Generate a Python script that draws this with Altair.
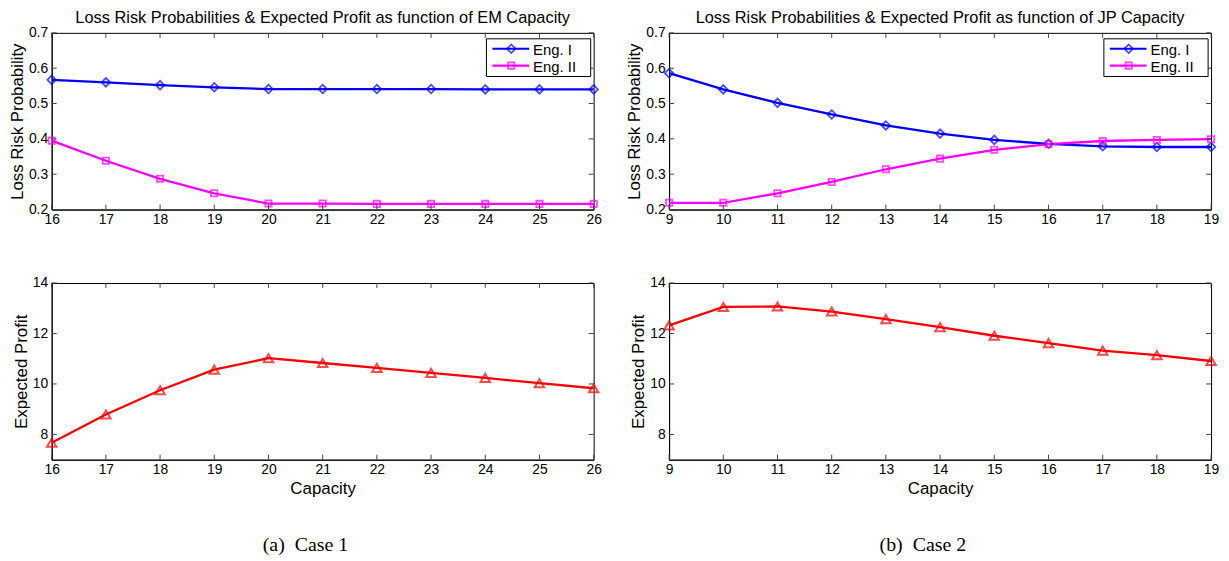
import altair as alt
import pandas as pd

# ---------------- data ----------------
series_names = ["Eng. I", "Eng. II"]

case1_capacity = [16, 17, 18, 19, 20, 21, 22, 23, 24, 25, 26]
case1_eng1 = [0.567, 0.560, 0.552, 0.546, 0.541, 0.541, 0.541, 0.541, 0.540, 0.540, 0.540]
case1_eng2 = [0.395, 0.338, 0.287, 0.246, 0.217, 0.217, 0.216, 0.216, 0.216, 0.216, 0.216]
case1_profit = [7.67, 8.79, 9.75, 10.57, 11.02, 10.83, 10.64, 10.44, 10.24, 10.03, 9.83]

case2_capacity = [9, 10, 11, 12, 13, 14, 15, 16, 17, 18, 19]
case2_eng1 = [0.586, 0.540, 0.502, 0.469, 0.438, 0.415, 0.397, 0.386, 0.379, 0.377, 0.377]
case2_eng2 = [0.219, 0.219, 0.246, 0.278, 0.314, 0.344, 0.369, 0.385, 0.394, 0.397, 0.399]
case2_profit = [12.32, 13.05, 13.07, 12.87, 12.57, 12.25, 11.91, 11.62, 11.32, 11.14, 10.91]

prob_ticks = [0.2, 0.3, 0.4, 0.5, 0.6, 0.7]
profit_ticks = [8, 10, 12, 14]

titles = [
    "Loss Risk Probabilities & Expected Profit as function of EM Capacity",
    "Loss Risk Probabilities & Expected Profit as function of JP Capacity",
]
captions = ["(a)\u00a0\u00a0Case 1", "(b)\u00a0\u00a0Case 2"]

# ---------------- styling ----------------
W, H = 546, 178
FONT = "Liberation Sans"
BLUE, MAGENTA, RED = "#0000ff", "#ff00ff", "#ff0000"
TICK = 5


def inner_ticks(xs, xscale, xaxis, yvals, yscale, yaxis):
    xt = pd.DataFrame({"capacity": xs})
    yt = pd.DataFrame({"value": yvals})
    base_x = alt.Chart(xt).mark_rule(color="#444444", strokeWidth=1)
    base_y = alt.Chart(yt).mark_rule(color="#444444", strokeWidth=1)
    xenc = alt.X("capacity:Q", scale=xscale, axis=xaxis)
    yenc = alt.Y("value:Q", scale=yscale, axis=yaxis)
    return [
        base_x.encode(x=xenc, y=alt.value(H), y2=alt.value(H - TICK)),
        base_x.encode(x=xenc, y=alt.value(0), y2=alt.value(TICK)),
        base_y.encode(y=yenc, x=alt.value(0), x2=alt.value(TICK)),
        base_y.encode(y=yenc, x=alt.value(W), x2=alt.value(W - TICK)),
    ]


def legend_layers():
    box = alt.Chart(pd.DataFrame({"k": [0]})).mark_rect(
        fill="white", stroke="black", strokeWidth=1
    ).encode(x=alt.value(W - 108), x2=alt.value(W - 3), y=alt.value(6), y2=alt.value(44))
    layers = [box]
    rows = [(series_names[0], BLUE, "diamond", 16, 75), (series_names[1], MAGENTA, "square", 33, 40)]
    for name, col, shp, yy, sz in rows:
        d = pd.DataFrame({"label": [name]})
        layers.append(
            alt.Chart(d).mark_rule(color=col, strokeWidth=2.2).encode(
                x=alt.value(W - 102), x2=alt.value(W - 65), y=alt.value(yy)
            )
        )
        layers.append(
            alt.Chart(d).mark_point(shape=shp, color=col, filled=False, size=sz, strokeWidth=1.8).encode(
                x=alt.value(W - 83), y=alt.value(yy)
            )
        )
        layers.append(
            alt.Chart(d).mark_text(align="left", baseline="middle", font=FONT, fontSize=15, color="black").encode(
                x=alt.value(W - 61), y=alt.value(yy + 1), text="label:N"
            )
        )
    return layers


def prob_panel(xs, e1, e2, title):
    df = pd.DataFrame({
        "capacity": xs + xs,
        "series": [series_names[0]] * len(xs) + [series_names[1]] * len(xs),
        "value": e1 + e2,
    })
    xscale = alt.Scale(domain=[xs[0], xs[-1]], nice=False, zero=False)
    yscale = alt.Scale(domain=[prob_ticks[0], prob_ticks[-1]], nice=False, zero=False)
    xaxis = alt.Axis(values=xs, format="d", title=None)
    yaxis = alt.Axis(values=prob_ticks, format=".1f", title="Loss Risk Probability")
    x = alt.X("capacity:Q", scale=xscale, axis=xaxis)
    y = alt.Y("value:Q", scale=yscale, axis=yaxis)
    color = alt.Color("series:N", scale=alt.Scale(domain=series_names, range=[BLUE, MAGENTA]), legend=None)
    shape = alt.Shape("series:N", scale=alt.Scale(domain=series_names, range=["diamond", "square"]), legend=None)
    size = alt.Size("series:N", scale=alt.Scale(domain=series_names, range=[75, 40]), legend=None)
    base = alt.Chart(df)
    line = base.mark_line(strokeWidth=2.3).encode(x=x, y=y, color=color, detail="series:N")
    pts = base.mark_point(filled=False, strokeWidth=1.8).encode(x=x, y=y, color=color, shape=shape, size=size)
    layers = [line, pts] + inner_ticks(xs, xscale, xaxis, prob_ticks, yscale, yaxis) + legend_layers()
    return alt.layer(*layers).properties(
        width=W, height=H,
        title=alt.Title(title, font=FONT, fontSize=16.5, fontWeight="normal", offset=-1, frame="group",
                        anchor="middle", color="black"),
    )


def profit_panel(xs, prof):
    df = pd.DataFrame({"capacity": xs, "value": prof})
    xscale = alt.Scale(domain=[xs[0], xs[-1]], nice=False, zero=False)
    yscale = alt.Scale(domain=[7, 14], nice=False, zero=False)
    xaxis = alt.Axis(values=xs, format="d", title="Capacity")
    yaxis = alt.Axis(values=profit_ticks, format="d", title="Expected Profit")
    x = alt.X("capacity:Q", scale=xscale, axis=xaxis)
    y = alt.Y("value:Q", scale=yscale, axis=yaxis)
    base = alt.Chart(df)
    line = base.mark_line(color=RED, strokeWidth=2.3).encode(x=x, y=y)
    pts = base.mark_point(shape="triangle-up", color=RED, filled=False, size=90, strokeWidth=2).encode(x=x, y=y)
    layers = [line, pts] + inner_ticks(xs, xscale, xaxis, profit_ticks, yscale, yaxis)
    return alt.layer(*layers).properties(width=W, height=H)


def column(xs, e1, e2, prof, title, caption):
    return alt.vconcat(
        prob_panel(xs, e1, e2, title),
        profit_panel(xs, prof),
        spacing=48,
    ).properties(
        title=alt.Title(caption, orient="bottom", font="Liberation Serif", fontSize=20,
                        fontWeight="normal", offset=38, anchor="middle", frame="bounds", color="black")
    )


chart = alt.hconcat(
    column(case1_capacity, case1_eng1, case1_eng2, case1_profit, titles[0], captions[0]),
    column(case2_capacity, case2_eng1, case2_eng2, case2_profit, titles[1], captions[1]),
    spacing=22,
).configure_view(
    stroke="black", strokeWidth=1
).configure_axis(
    grid=False, ticks=False, domainColor="black", domainWidth=1,
    labelFont=FONT, labelFontSize=14, labelColor="black", labelPadding=4,
    labelOverlap=False, labelFlush=False, labelBound=False,
    titleFont=FONT, titleFontSize=17, titleFontWeight="normal", titleColor="black", titlePadding=2,
).configure_axisX(labelPadding=3, titlePadding=4).properties(
    background="white", padding=0
)

chart.save("out.html", embed_options={"renderer": "svg", "actions": False})
